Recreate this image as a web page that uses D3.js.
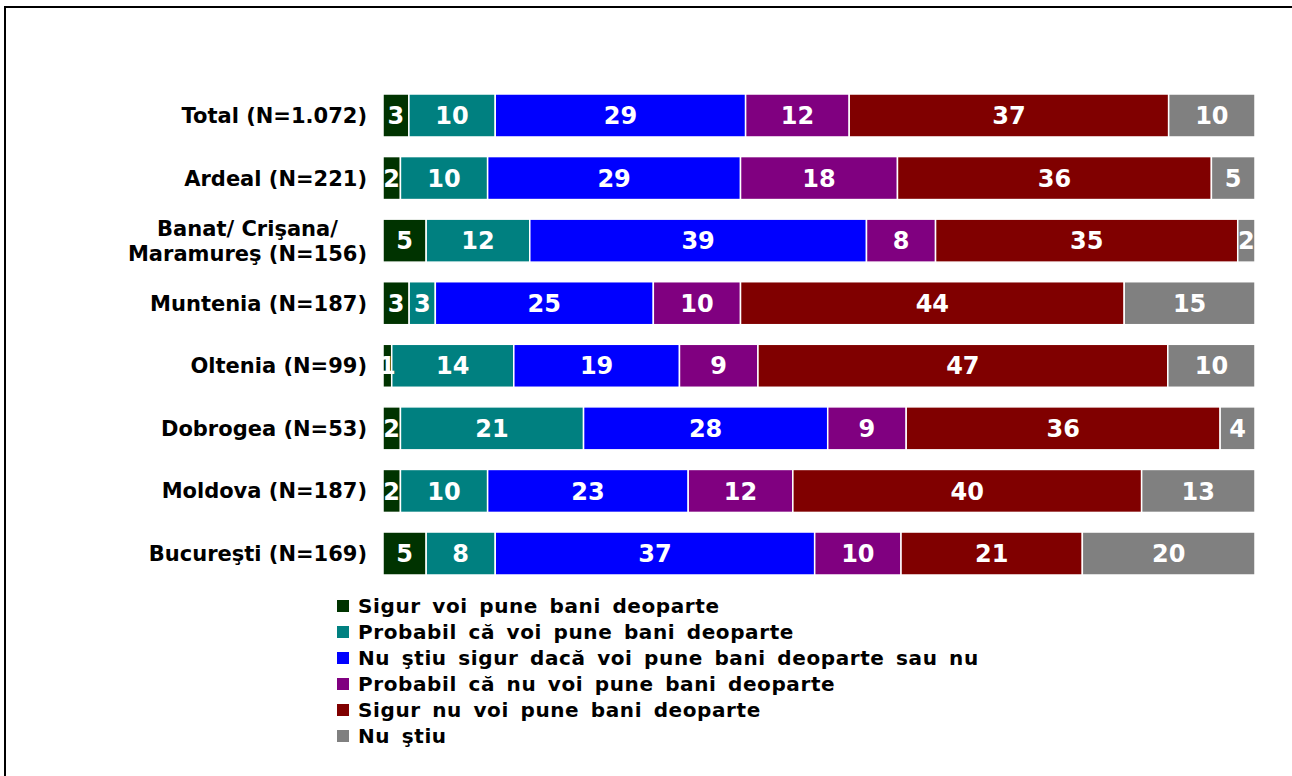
<!DOCTYPE html>
<html>
<head>
<meta charset="utf-8">
<script src="https://cdn.jsdelivr.net/npm/d3@7"></script>
<style>
    body { margin: 0; background: #fff; }
    text { font-family: "DejaVu Sans", Verdana, sans-serif; font-weight: bold; }
</style>
</head>
<body>
<div id="Chart"></div>
<script>
// regions (rows of the chart)
const regions = [
    ["Total (N=1.072)"],
    ["Ardeal (N=221)"],
    ["Banat/ Crişana/", "Maramureş (N=156)"],
    ["Muntenia (N=187)"],
    ["Oltenia (N=99)"],
    ["Dobrogea (N=53)"],
    ["Moldova (N=187)"],
    ["Bucureşti (N=169)"]
];

// answer categories
const answers = [
    "Sigur voi pune bani deoparte",
    "Probabil că voi pune bani deoparte",
    "Nu ştiu sigur dacă voi pune bani deoparte sau nu",
    "Probabil că nu voi pune bani deoparte",
    "Sigur nu voi pune bani deoparte",
    "Nu ştiu"
];
const colors = ["#003300", "#008080", "#0000ff", "#800080", "#800000", "#808080"];

// percentages per answer, one value per region (same order as regions)
const sigurDa      = [3, 2, 5, 3, 1, 2, 2, 5];
const probabilDa   = [10, 10, 12, 3, 14, 21, 10, 8];
const nuStiuSigur  = [29, 29, 39, 25, 19, 28, 23, 37];
const probabilNu   = [12, 18, 8, 10, 9, 9, 12, 10];
const sigurNu      = [37, 36, 35, 44, 47, 36, 40, 21];
const nuStiu       = [10, 5, 2, 15, 10, 4, 13, 20];

const series = [sigurDa, probabilDa, nuStiuSigur, probabilNu, sigurNu, nuStiu];

const W = 1292, H = 776;
const x0 = 383, x1 = 1255;

const svg = d3.select("#Chart").append("svg")
    .attr("width", W)
    .attr("height", H);

// frame
svg.append("rect")
    .attr("x", 5).attr("y", 7)
    .attr("width", W + 20).attr("height", H + 20)
    .attr("fill", "none")
    .attr("stroke", "#000")
    .attr("stroke-width", 2);

// build stacked rows, each normalised to 100%
const rows = regions.map((r, i) => {
    const vals = series.map(s => s[i]);
    const total = d3.sum(vals);
    let acc = 0;
    return vals.map((v, k) => {
        const seg = { row: i, k: k, v: v, start: acc / total * 100, end: (acc + v) / total * 100 };
        acc += v;
        return seg;
    });
});

const x = d3.scaleLinear().domain([0, 100]).range([x0, x1]);
const y = d3.scaleBand()
    .domain(d3.range(regions.length))
    .range([84.2, 584.8])
    .paddingInner(0.313)
    .paddingOuter(0.1565);

// category labels (multi-line labels are centred as a block, right-aligned to the bars)
const yAxis = svg.append("g");
regions.forEach((lines, i) => {
    const cy = y(i) + y.bandwidth() / 2;
    const t = yAxis.append("text")
        .attr("text-anchor", lines.length > 1 ? "middle" : "end")
        .attr("font-size", 21)
        .attr("fill", "#000");
    const spans = lines.map((ln, j) => t.append("tspan")
        .attr("x", 367)
        .attr("y", cy + (j - (lines.length - 1) / 2) * 25)
        .attr("dy", "0.36em")
        .text(ln));
    if (lines.length > 1) {
        const maxW = d3.max(spans, s => s.node().getComputedTextLength());
        spans.forEach(s => s.attr("x", 367 - maxW / 2));
    }
});

// bars
const bars = svg.append("g");
rows.forEach(row => {
    bars.selectAll(null)
        .data(row)
        .enter()
        .append("rect")
        .attr("x", d => x(d.start))
        .attr("y", d => y(d.row))
        .attr("width", d => x(d.end) - x(d.start))
        .attr("height", y.bandwidth())
        .attr("fill", d => colors[d.k])
        .attr("stroke", "#fff")
        .attr("stroke-width", 1.5);
});

// value labels, clipped to the plot area
svg.append("clipPath").attr("id", "plotClip")
    .append("rect")
    .attr("x", x0).attr("y", 0)
    .attr("width", x1 - x0).attr("height", H);

const labels = svg.append("g").attr("clip-path", "url(#plotClip)");
rows.forEach(row => {
    labels.selectAll(null)
        .data(row)
        .enter()
        .append("text")
        .attr("x", d => (x(d.start) + x(d.end)) / 2)
        .attr("y", d => y(d.row) + y.bandwidth() / 2)
        .attr("dy", "0.36em")
        .attr("text-anchor", "middle")
        .attr("font-size", 24)
        .attr("fill", "#fff")
        .text(d => d.v);
});

// legend
const legend = svg.append("g");
answers.forEach((a, i) => {
    const ly = 606 + i * 26;
    legend.append("rect")
        .attr("x", 337).attr("y", ly - 6)
        .attr("width", 12).attr("height", 12)
        .attr("fill", colors[i]);
    legend.append("text")
        .attr("x", 358)
        .attr("y", ly)
        .attr("dy", "0.36em")
        .attr("font-size", 20)
        .attr("letter-spacing", 0.6)
        .attr("word-spacing", 4)
        .attr("fill", "#000")
        .text(a);
});
</script>
</body>
</html>
